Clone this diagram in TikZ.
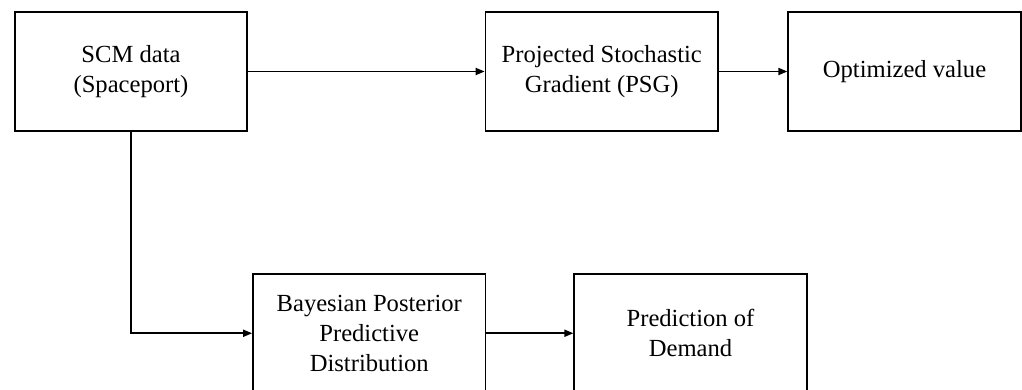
\documentclass[tikz,border=0pt]{standalone}
\usepackage{fontspec}
\setmainfont{Liberation Serif}
\usetikzlibrary{arrows.meta, positioning}
\tikzstyle{block} = [
  rectangle,
  minimum width=4.65cm,
  minimum height=2.38cm,
  text centered,
  align=center,
  inner sep=0,
  draw=black,
  line width=1pt,
  font=\fontsize{14}{17}\selectfont
]
\tikzstyle{arrow} = [
  line width=1pt,
  -{Triangle[length=1.8mm,width=1.4mm]}
]
\begin{document}
\begin{tikzpicture}

    \useasboundingbox (0,0) rectangle (20.44,-7.8);

    \node (scm) [block] at (2.62,-1.43) {SCM data\\(Spaceport)};
    \node (psg) [block, right=4.73cm of scm] {Projected Stochastic\\Gradient (PSG)};
    \node (opt) [block, right=1.37cm of psg] {Optimized value};
    \node (bayes) [block, below right=2.82cm and 0.08cm of scm.south east] {Bayesian Posterior\\Predictive\\Distribution};
    \node (pred) [block, right=1.74cm of bayes] {Prediction of\\Demand};

    \draw [arrow] (scm) -- (psg);
    \draw [arrow] (psg) -- (opt);
    \draw [arrow] (scm) |- (bayes);
    \draw [arrow] (bayes) -- (pred);

\end{tikzpicture}
\end{document}
